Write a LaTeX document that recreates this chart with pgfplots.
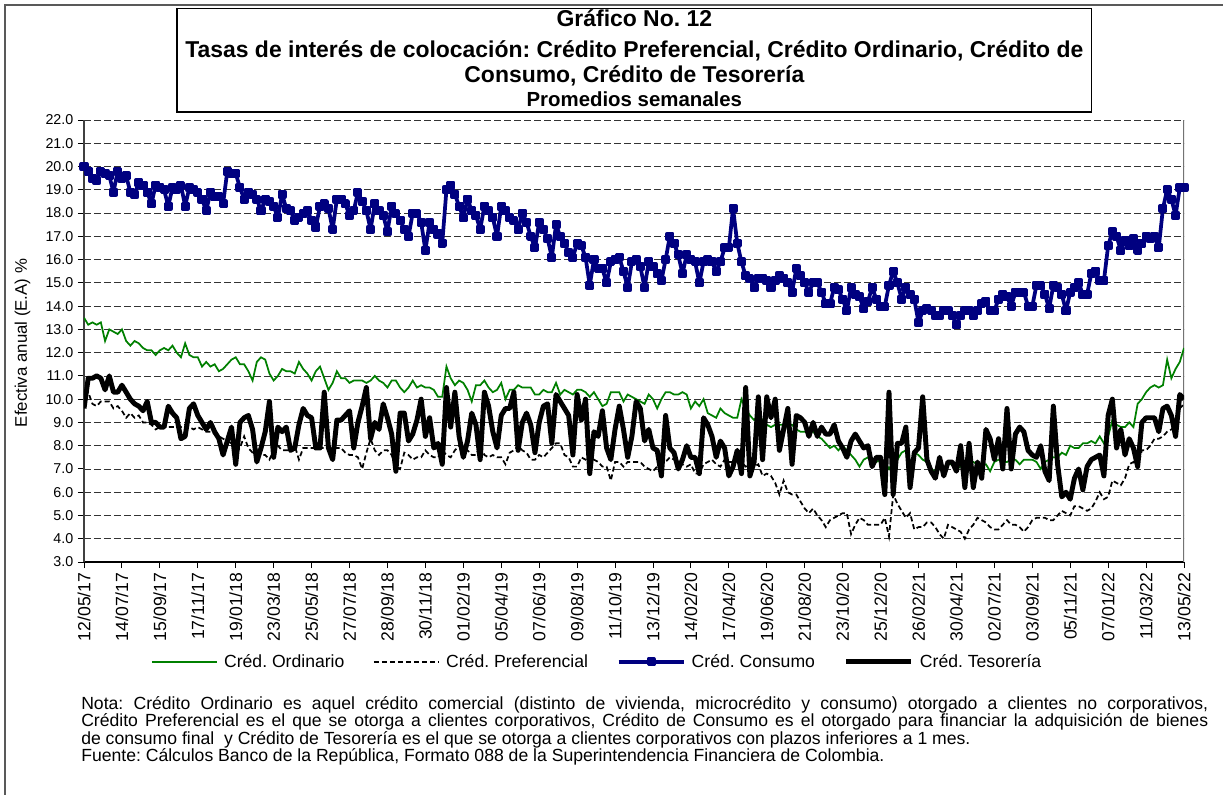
\documentclass[border=0pt]{standalone}
\usepackage{fontspec}
\setmainfont{Liberation Sans}
\usepackage{pgfplots}
\usepackage{pgfplotstable}
\pgfplotsset{compat=1.18}
\definecolor{cgreen}{RGB}{0,128,0}
\definecolor{cnavy}{RGB}{0,0,128}
\frenchspacing
\pgfplotstableread{
w O P C T
0 13.5 10.2 20.0 9.6
1 13.2 10.3 19.8 10.9
2 13.3 9.8 19.5 10.9
3 13.2 9.7 19.4 11.0
4 13.3 9.9 19.8 10.9
5 12.5 9.9 19.7 10.4
6 13.0 9.9 19.6 11.0
7 12.9 9.6 18.9 10.3
8 12.8 9.7 19.8 10.3
9 13.0 9.5 19.5 10.6
10 12.5 9.2 19.6 10.3
11 12.3 9.4 18.9 10.0
12 12.5 9.2 18.8 9.8
13 12.4 9.3 19.3 9.7
14 12.2 9.0 19.2 9.5
15 12.1 9.0 18.9 9.9
16 12.1 8.9 18.4 9.0
17 11.9 8.7 19.2 9.0
18 12.1 8.8 19.1 8.8
19 12.2 8.9 19.0 8.8
20 12.1 8.8 18.3 9.7
21 12.3 8.8 19.1 9.4
22 12.0 8.8 19.0 9.2
23 11.8 8.8 19.2 8.3
24 12.4 8.9 18.3 8.4
25 11.9 8.8 19.1 9.6
26 11.8 8.7 19.0 9.8
27 11.8 8.8 18.9 9.3
28 11.4 8.7 18.6 9.0
29 11.6 8.6 18.1 8.7
30 11.4 8.6 18.9 9.0
31 11.5 8.5 18.7 8.6
32 11.2 8.4 18.7 8.3
33 11.3 8.3 18.4 7.6
34 11.5 8.2 19.8 8.2
35 11.7 8.1 19.7 8.8
36 11.8 7.7 19.7 7.2
37 11.5 7.9 19.1 9.0
38 11.5 8.4 18.6 9.2
39 11.2 7.9 18.9 9.3
40 10.8 7.7 18.8 8.7
41 11.6 7.6 18.6 7.3
42 11.8 7.6 18.1 7.9
43 11.7 7.6 18.6 8.6
44 11.1 7.4 18.5 9.9
45 10.8 7.8 18.3 7.5
46 11.0 8.0 17.8 8.8
47 11.3 7.8 18.8 8.6
48 11.2 7.8 18.2 8.8
49 11.2 7.8 18.1 7.8
50 11.1 8.0 17.7 7.9
51 11.6 7.4 17.8 8.9
52 11.3 7.9 18.0 9.6
53 11.1 7.9 18.1 9.3
54 10.8 7.9 17.7 9.2
55 11.2 7.9 17.4 7.9
56 11.4 7.9 18.3 7.9
57 10.9 7.9 18.4 10.3
58 10.4 7.9 18.2 7.9
59 10.7 7.9 17.3 7.4
60 11.2 7.9 18.6 9.1
61 10.9 7.9 18.6 9.1
62 10.9 7.7 18.4 9.3
63 10.7 7.6 17.9 9.5
64 10.8 7.6 18.1 7.9
65 10.8 7.5 18.9 9.0
66 10.8 7.0 18.5 9.7
67 10.7 7.7 18.1 10.5
68 10.8 8.3 17.3 8.3
69 11.0 7.8 18.4 9.0
70 10.8 7.6 18.1 8.7
71 10.7 7.8 17.9 9.8
72 10.5 7.8 17.2 9.2
73 10.8 7.6 18.3 8.5
74 10.8 7.1 18.0 6.9
75 10.5 7.0 17.7 9.4
76 10.3 7.7 17.3 9.4
77 10.5 7.6 17.0 8.2
78 10.8 7.4 18.0 8.5
79 10.5 7.5 18.0 9.1
80 10.6 7.5 17.6 10.0
81 10.5 7.8 16.4 8.4
82 10.5 7.6 17.6 9.2
83 10.4 7.5 17.3 7.9
84 10.1 7.5 17.1 8.1
85 10.1 7.8 16.7 7.2
86 11.4 7.6 19.0 10.5
87 10.9 7.5 19.2 8.8
88 10.6 7.8 18.8 10.3
89 10.8 8.0 18.3 8.4
90 10.7 7.9 17.8 7.5
91 10.4 7.8 18.6 8.2
92 9.9 7.6 18.1 9.4
93 10.6 7.6 17.9 8.9
94 10.6 8.0 17.3 7.4
95 10.8 7.6 18.3 10.3
96 10.5 7.5 18.1 9.7
97 10.3 7.6 17.8 8.6
98 10.4 7.5 17.0 7.9
99 10.7 7.5 18.3 9.3
100 10.0 7.2 18.1 9.6
101 10.4 7.7 17.8 9.6
102 10.4 7.8 17.7 10.3
103 10.6 8.0 17.3 7.8
104 10.5 7.8 18.0 9.0
105 10.5 7.7 17.6 9.4
106 10.5 7.4 17.0 8.9
107 10.2 7.4 16.5 7.7
108 10.2 7.6 17.6 9.0
109 10.4 7.5 17.3 9.7
110 10.3 7.7 16.9 9.8
111 10.3 7.9 16.1 8.1
112 10.7 8.1 17.5 10.2
113 10.2 8.1 17.0 9.9
114 10.4 7.6 16.7 9.6
115 10.3 7.5 16.3 9.3
116 10.2 7.1 16.1 7.6
117 10.4 7.1 16.7 10.2
118 10.4 7.5 16.6 9.1
119 10.3 7.4 16.1 10.0
120 10.1 7.2 14.9 6.8
121 10.3 7.4 16.0 8.6
122 10.0 7.3 15.6 8.4
123 9.7 7.1 15.6 9.5
124 9.8 7.1 15.0 7.9
125 10.3 6.5 15.9 7.4
126 10.3 7.3 16.0 8.7
127 10.3 7.3 16.1 9.7
128 9.9 7.1 15.5 8.7
129 10.2 7.3 14.8 7.5
130 10.1 7.3 15.9 8.4
131 10.0 7.3 16.0 9.9
132 9.9 7.3 15.7 9.6
133 9.8 7.1 14.8 8.2
134 10.2 7.0 15.9 8.7
135 10.0 6.9 15.7 7.9
136 9.6 7.1 15.4 7.8
137 10.0 7.2 15.1 6.7
138 10.3 7.3 16.0 9.3
139 10.3 7.5 17.0 7.9
140 10.2 7.4 16.7 7.7
141 10.2 7.3 16.2 7.0
142 10.3 7.2 15.4 7.4
143 10.2 7.1 16.2 8.0
144 9.6 7.2 16.0 7.5
145 9.9 6.8 15.9 7.5
146 9.7 6.8 15.0 6.8
147 10.0 7.2 15.9 9.2
148 9.4 7.3 16.0 8.9
149 9.3 7.4 15.9 8.4
150 9.2 7.2 15.5 7.5
151 9.6 7.1 15.9 8.2
152 9.4 7.4 16.5 7.9
153 9.3 7.3 16.5 6.7
154 9.2 7.3 18.2 7.1
155 9.2 7.4 16.7 7.8
156 10.0 7.3 15.9 6.8
157 9.6 7.1 15.3 10.5
158 9.3 7.2 15.2 6.7
159 9.1 7.1 14.8 7.3
160 9.3 7.2 15.2 10.1
161 9.1 6.7 15.2 7.4
162 8.9 6.8 15.1 10.1
163 8.8 6.7 14.8 9.2
164 8.9 6.4 15.1 10.0
165 8.9 5.9 15.3 7.8
166 8.9 6.5 15.2 8.7
167 8.9 6.0 15.0 9.6
168 8.9 5.9 14.6 7.2
169 8.7 5.9 15.6 9.3
170 8.6 5.6 15.3 9.2
171 8.6 5.3 15.0 9.0
172 8.6 5.1 14.6 8.4
173 8.6 5.3 15.0 9.0
174 8.4 5.0 15.0 8.4
175 8.3 4.8 14.6 8.8
176 8.1 4.5 14.1 8.5
177 7.9 4.8 14.1 8.5
178 8.0 4.9 14.8 8.9
179 7.8 5.0 14.7 8.2
180 8.0 5.1 14.3 7.9
181 7.8 5.1 13.8 7.5
182 7.6 4.2 14.8 8.2
183 7.4 4.6 14.5 8.5
184 7.1 4.9 14.4 8.2
185 7.4 4.8 13.9 7.9
186 7.5 4.6 14.2 8.0
187 7.2 4.6 14.8 7.1
188 7.3 4.6 14.3 7.5
189 7.4 4.6 14.0 7.5
190 7.3 4.9 14.0 5.9
191 7.0 4.1 14.9 10.3
192 7.3 5.9 15.5 5.9
193 7.4 5.5 15.0 8.1
194 7.7 5.2 14.3 8.1
195 7.8 4.9 14.8 8.8
196 6.4 5.1 14.5 6.2
197 7.7 4.4 14.3 7.7
198 7.6 4.5 13.3 7.9
199 7.4 4.5 13.8 10.1
200 7.3 4.7 13.9 7.4
201 7.0 4.7 13.8 6.9
202 6.9 4.5 13.6 6.6
203 7.0 4.2 13.6 7.5
204 6.9 4.0 13.8 6.7
205 7.2 4.6 13.8 7.3
206 7.2 4.5 13.6 7.3
207 7.0 4.4 13.2 6.9
208 7.1 4.3 13.6 8.0
209 7.3 4.0 13.8 6.2
210 7.2 4.4 13.8 8.1
211 7.3 4.6 13.6 6.2
212 7.2 4.9 13.8 7.3
213 7.2 4.8 14.1 6.6
214 7.2 4.7 14.2 8.7
215 6.9 4.5 13.8 8.3
216 7.3 4.4 13.8 7.4
217 7.4 4.4 14.3 8.3
218 7.3 4.6 14.5 7.0
219 7.3 4.8 14.4 9.6
220 7.4 4.6 14.0 7.0
221 7.4 4.6 14.6 8.5
222 7.2 4.5 14.6 8.8
223 7.4 4.3 14.6 8.6
224 7.4 4.5 14.0 7.8
225 7.4 4.8 14.0 7.6
226 7.3 4.9 14.9 7.5
227 7.0 4.9 14.9 8.0
228 7.3 4.9 14.5 6.9
229 7.4 4.8 13.9 6.5
230 7.5 4.8 14.9 9.7
231 7.5 5.0 14.8 7.2
232 7.7 5.2 14.5 5.8
233 7.6 5.1 13.8 6.0
234 8.0 5.0 14.6 5.7
235 7.9 5.4 14.8 6.6
236 7.9 5.4 15.0 7.0
237 8.1 5.3 14.5 6.1
238 8.1 5.2 14.5 7.1
239 8.2 5.3 15.4 7.4
240 8.1 5.6 15.5 7.5
241 8.4 6.0 15.1 7.6
242 8.1 5.7 15.1 6.7
243 8.4 5.8 16.6 9.3
244 9.1 6.5 17.2 10.0
245 8.9 6.4 17.0 7.9
246 8.8 6.3 16.4 8.7
247 8.8 6.6 16.8 7.6
248 9.0 7.2 16.6 8.3
249 8.8 7.3 16.9 7.9
250 9.8 7.1 16.4 7.1
251 10.0 7.8 16.7 9.0
252 10.3 7.8 17.0 9.2
253 10.5 8.0 16.9 9.2
254 10.6 8.3 17.0 9.2
255 10.5 8.3 16.5 8.6
256 10.6 8.4 18.2 9.6
257 11.7 8.6 19.0 9.7
258 10.9 8.7 18.6 9.3
259 11.3 8.9 17.9 8.4
260 11.6 9.6 19.1 10.2
261 12.2 9.8 19.1 10.0
}\data
\begin{document}
\begin{tikzpicture}
\useasboundingbox (0,0) rectangle (917.25pt,-596.25pt);
\fill[white] (0,0) rectangle (917.25pt,-596.25pt);
\draw[black!65, line width=1.1pt] (3.75pt,-620pt) -- (3.75pt,-3.75pt) -- (940pt,-3.75pt);
\draw[black, line width=0.8pt] (132.75pt,-6.25pt) rectangle (818.75pt,-84pt);
\node[anchor=base, font=\bfseries\fontsize{17.2}{20}\selectfont, inner sep=0pt] at (475.75pt,-20.2pt) {Gráfico No. 12};
\node[anchor=base, font=\bfseries\fontsize{17.2}{20}\selectfont, inner sep=0pt] at (475.75pt,-43.5pt) {Tasas de interés de colocación: Crédito Preferencial, Crédito Ordinario, Crédito de};
\node[anchor=base, font=\bfseries\fontsize{17.2}{20}\selectfont, inner sep=0pt] at (475.75pt,-62.25pt) {Consumo, Crédito de Tesorería};
\node[anchor=base, font=\bfseries\fontsize{15.3}{18}\selectfont, inner sep=0pt] at (475.75pt,-79.8pt) {Promedios semanales};
\begin{axis}[
  at={(63pt,-421.5pt)}, anchor=south west,
  width=825pt, height=331.5pt, scale only axis,
  xmin=0, xmax=261, ymin=3, ymax=22,
  axis x line*=bottom, axis y line*=left,
  x axis line style={black, line width=0.8pt},
  y axis line style={black!75, line width=0.9pt},
  xtick={0,9,...,261},
  xticklabels={12/05/17,14/07/17,15/09/17,17/11/17,19/01/18,23/03/18,25/05/18,27/07/18,28/09/18,30/11/18,01/02/19,05/04/19,07/06/19,09/08/19,11/10/19,13/12/19,14/02/20,17/04/20,19/06/20,21/08/20,23/10/20,25/12/20,26/02/21,30/04/21,02/07/21,03/09/21,05/11/21,07/01/22,11/03/22,13/05/22},
  ytick={3,4,...,22},
  tick align=outside, major tick length=4.5pt,
  tick style={black, line width=0.7pt},
  ymajorgrids,
  major grid style={black!80, line width=0.6pt, dash pattern=on 5pt off 2.5pt},
  /pgf/number format/.cd, fixed, fixed zerofill, precision=1, assume math mode=true,
  /pgfplots/.cd,
  yticklabel style={font=\fontsize{10.7}{12}\selectfont},
  xticklabel style={font=\fontsize{13.2}{14}\selectfont, rotate=90, anchor=east},
  ylabel={Efectiva anual (E.A) \%},
  ylabel style={font=\fontsize{12.6}{14}\selectfont, at={(axis description cs:-0.0559,0.4955)}, anchor=center},
  legend columns=4,
  legend style={draw=none, fill=none, at={(axis description cs:0.4668,-0.2256)}, anchor=center,
    font=\fontsize{13.2}{15}\selectfont, /tikz/every even column/.append style={column sep=19.5pt}},
  legend image code/.code={\draw[mark repeat=2,mark phase=2,#1] plot coordinates {(0pt,0pt) (24.4pt,0pt) (48.75pt,0pt)}; \path (51.5pt,0pt);},
]
\draw[black!55, line width=0.8pt] (rel axis cs:1,0) -- (rel axis cs:1,1);
\addplot[cgreen, line width=1.3pt] table[x=w,y=O]{\data};
\addlegendentry{Créd. Ordinario}
\addplot[black, line width=1.3pt, dash pattern=on 3.75pt off 2.25pt] table[x=w,y=P]{\data};
\addlegendentry{Créd. Preferencial}
\addplot[cnavy, line width=2.8pt, line join=round, mark=square*, mark size=2pt, mark options={solid}] table[x=w,y=C]{\data};
\addlegendentry{Créd. Consumo}
\addplot[black, line width=3.7pt, line join=round] table[x=w,y=T]{\data};
\addlegendentry{Créd. Tesorería}
\end{axis}
\node[anchor=base west, inner sep=0pt, font=\fontsize{13.2}{14}\selectfont] at (60.75pt,-532pt) {\makebox[845.25pt][s]{Nota: Crédito Ordinario es aquel crédito comercial (distinto de vivienda, microcrédito y consumo) otorgado a clientes no corporativos,}};
\node[anchor=base west, inner sep=0pt, font=\fontsize{13.2}{14}\selectfont] at (60.75pt,-545.1pt) {\makebox[845.25pt][s]{Crédito Preferencial es el que se otorga a clientes corporativos, Crédito de Consumo es el otorgado para financiar la adquisición de bienes}};
\node[anchor=base west, inner sep=0pt, font=\fontsize{13.2}{14}\selectfont] at (60.75pt,-558.3pt) {de consumo final\ \ y Crédito de Tesorería es el que se otorga a clientes corporativos con plazos inferiores a 1 mes.};
\node[anchor=base west, inner sep=0pt, font=\fontsize{13.2}{14}\selectfont] at (60.75pt,-571.4pt) {Fuente: Cálculos Banco de la República, Formato 088 de la Superintendencia Financiera de Colombia.};
\end{tikzpicture}
\end{document}
